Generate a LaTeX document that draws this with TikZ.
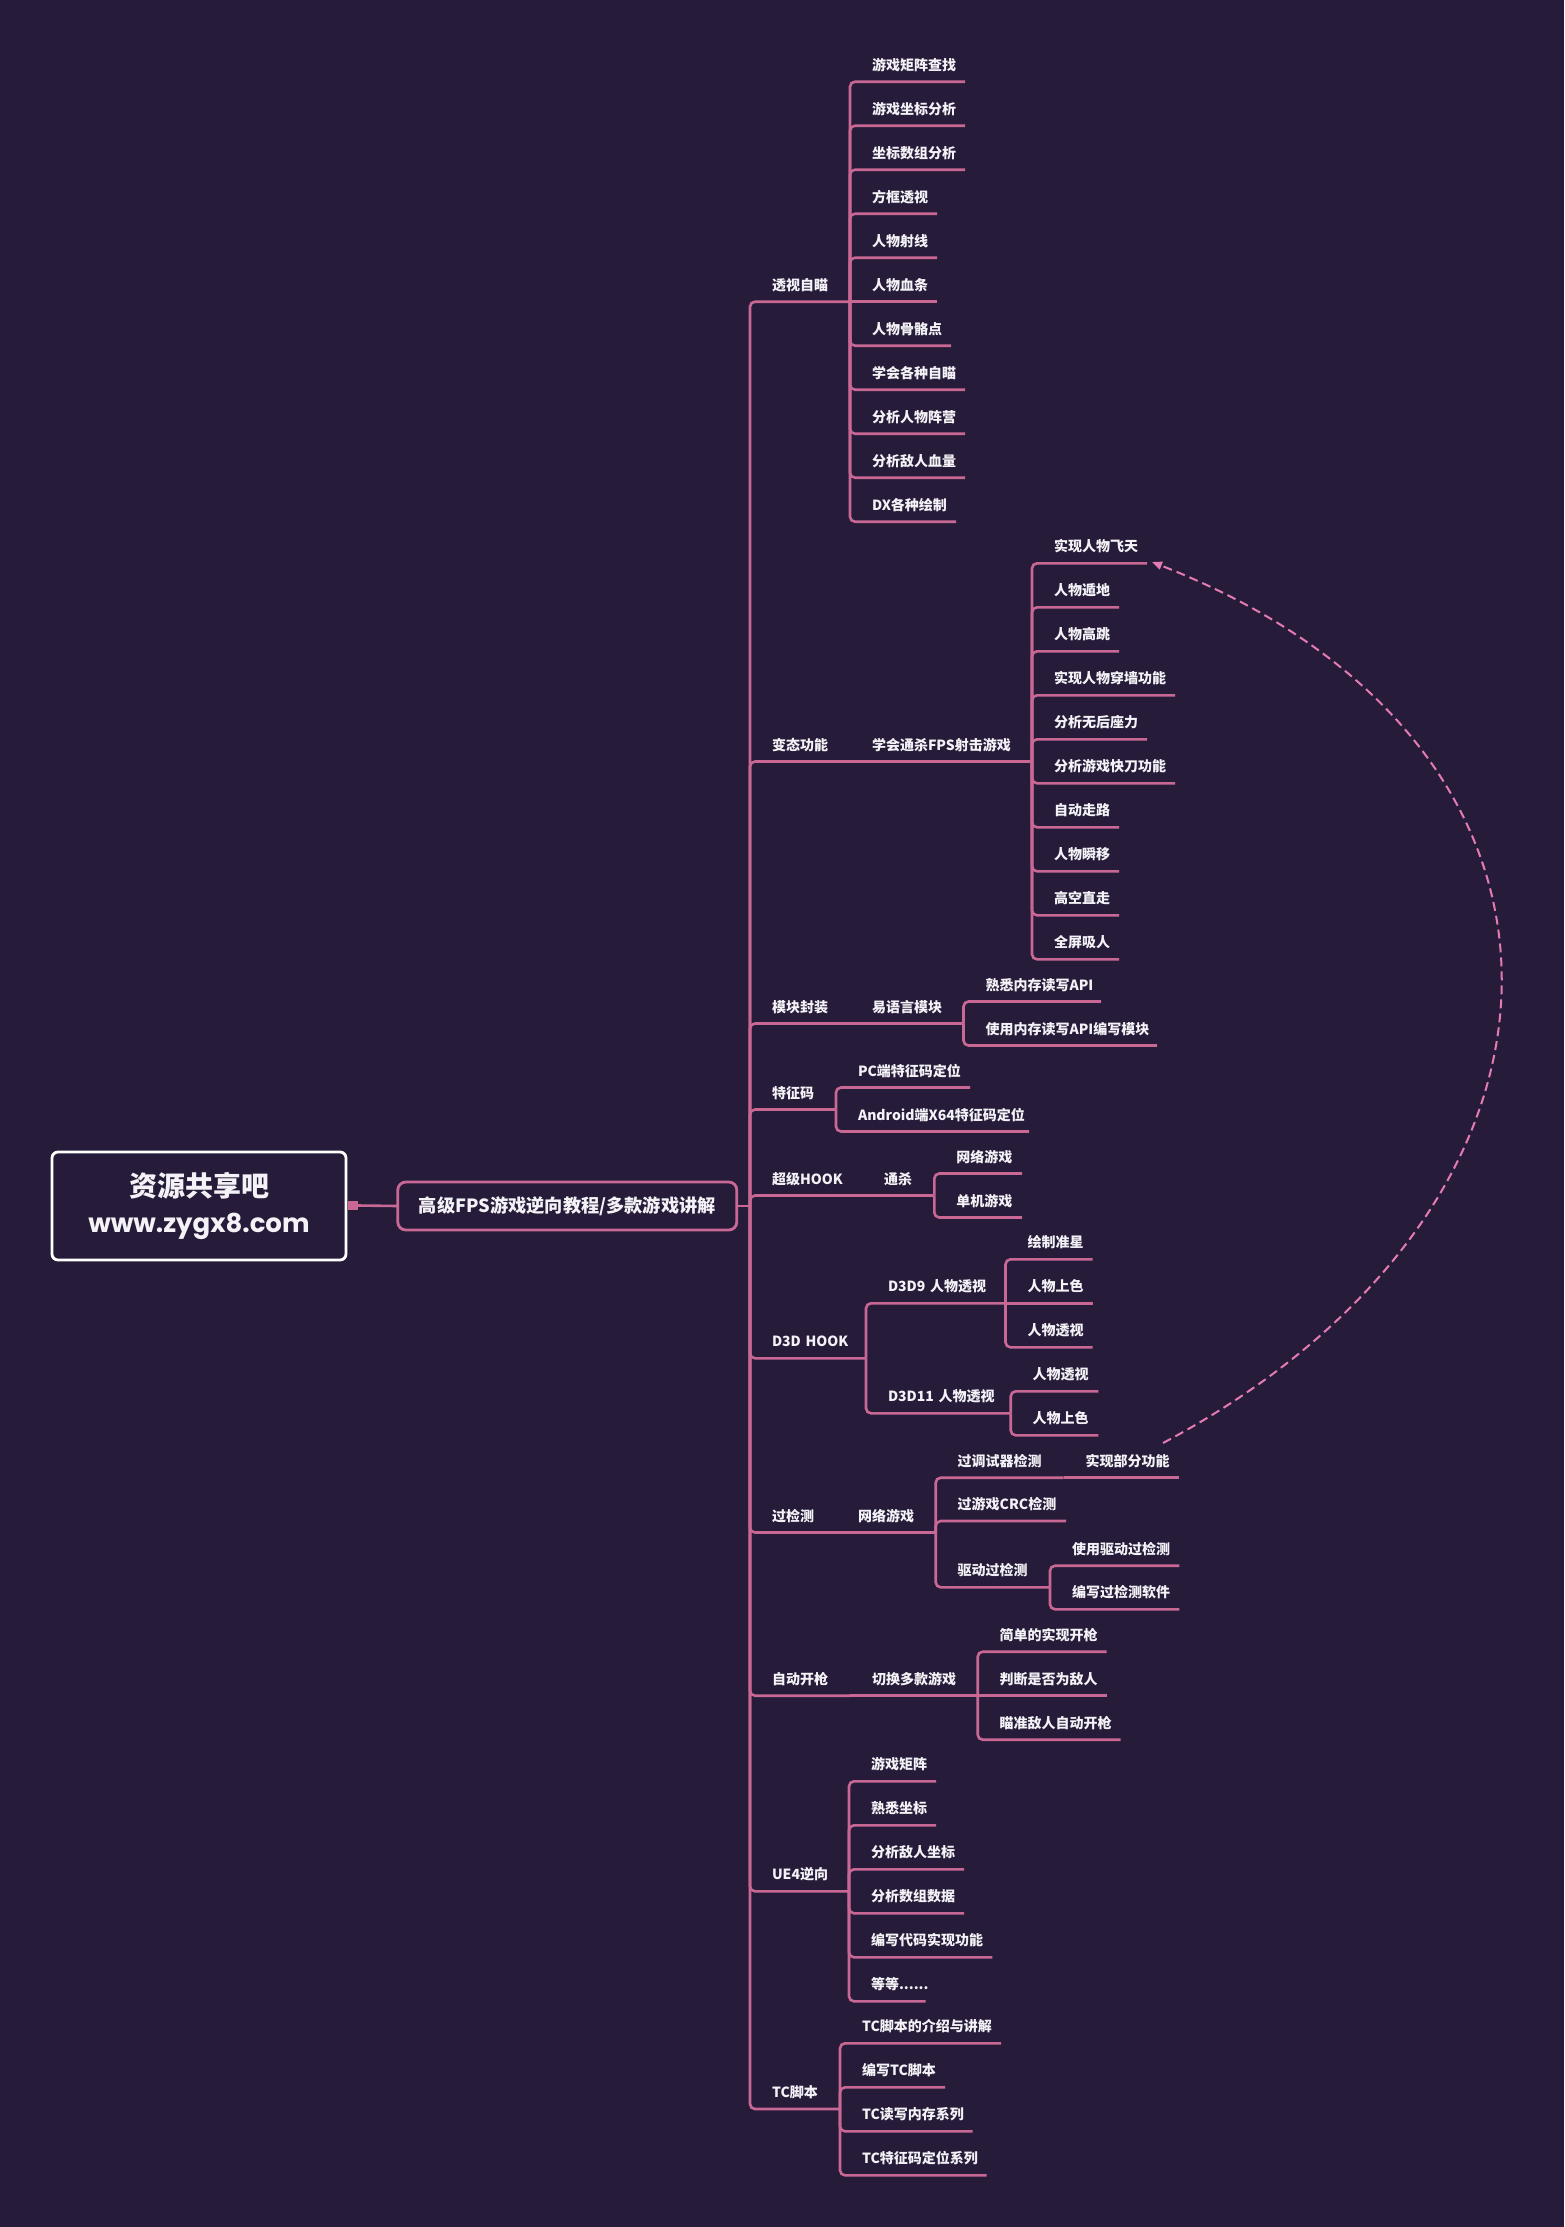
\documentclass[tikz,border=0pt]{standalone}
\usepackage{fontspec}
\newfontfamily\cjk{Noto Sans CJK SC}
\newfontfamily\pop{Poppins}
\usetikzlibrary{arrows.meta}
\definecolor{bg}{HTML}{261C3A}
\definecolor{pk}{HTML}{C96895}
\definecolor{pkl}{HTML}{E57BB6}
\definecolor{txt}{HTML}{F4F2F6}
\tikzset{
  lbl/.style={anchor=south west, inner sep=0pt, outer sep=0pt, text height=12pt, text depth=11.5pt,
    align=left, text=txt, font=\cjk\bfseries\fontsize{14}{17}\selectfont},
  br/.style={draw=pk, line width=2.6pt, rounded corners=5pt},
  rootbox/.style={draw=white, line width=2.8pt, rounded corners=6pt, fill=bg, text=txt, align=center,
    minimum width=294pt, minimum height=108pt, inner sep=0pt, outer sep=0pt},
  mainbox/.style={draw=pk, line width=2.8pt, rounded corners=8pt, fill=bg, text=txt,
    minimum width=339pt, minimum height=48pt, inner sep=0pt, outer sep=0pt,
    font=\cjk\bfseries\fontsize{18.2}{20}\selectfont},
  dsh/.style={draw=pkl, line width=2pt, dash pattern=on 9pt off 5pt, -{Triangle[length=10pt,width=8pt]}},
}
\newcommand\mmnode[5]{\node[lbl, text width=#4pt] (#1) at (#2,#3) {\noindent\hspace*{22pt}#5};}
\begin{document}
\begin{tikzpicture}[x=1pt, y=-1pt]
\fill[bg] (0,0) rectangle (1564,2227);
\useasboundingbox (0,0) rectangle (1564,2227);

% root and main
\node[rootbox] (root) at (199,1206) {{\cjk\bfseries\fontsize{28}{38}\selectfont 资源共享吧}\\[12pt]{\pop\bfseries\fontsize{26}{34}\selectfont www.zygx8.com}};
\node[fill=pk, minimum width=10pt, minimum height=9pt, inner sep=0pt, outer sep=0pt] (sq) at (353,1205.5) {};
\node[mainbox] (main) at (567.3,1206) {高级FPS游戏逆向教程/多款游戏讲解};
\draw[br] (sq.east) -- (main.west);
\coordinate (j) at (750,1206);
\draw[br] (main.east) -- (j);

% level 1
\mmnode{b1}{750}{301.7}{100}{透视自瞄}
\mmnode{b2}{750}{761.5}{100}{变态功能}
\mmnode{b3}{750}{1023.5}{100}{模块封装}
\mmnode{b4}{750}{1109.5}{86}{特征码}
\mmnode{b5}{750}{1195.5}{112}{超级HOOK}
\mmnode{b6}{750}{1358.3}{116}{D3D HOOK}
\mmnode{b7}{750}{1532.5}{86}{过检测}
\mmnode{b8}{750}{1695.7}{100}{自动开枪}
\mmnode{b9}{750}{1891.3}{99}{UE4逆向}
\mmnode{b10}{750}{2109}{90}{TC脚本}
\foreach \b in {b1,b2,b3,b4,b5,b6,b7,b8,b9,b10} {\draw[br] (j) |- (\b.south east);}

% 透视自瞄
\mmnode{a0}{850}{81.7}{115}{游戏矩阵查找}
\mmnode{a1}{850}{125.7}{115}{游戏坐标分析}
\mmnode{a2}{850}{169.7}{115}{坐标数组分析}
\mmnode{a3}{850}{213.7}{87}{方框透视}
\mmnode{a4}{850}{257.7}{87}{人物射线}
\mmnode{a5}{850}{301.7}{87}{人物血条}
\mmnode{a6}{850}{345.7}{101}{人物骨骼点}
\mmnode{a7}{850}{389.7}{115}{学会各种自瞄}
\mmnode{a8}{850}{433.7}{115}{分析人物阵营}
\mmnode{a9}{850}{477.7}{115}{分析敌人血量}
\mmnode{a10}{850}{521.7}{106}{DX各种绘制}
\foreach \c in {a0,a1,a2,a3,a4,a6,a7,a8,a9,a10} {\draw[br] (b1.south east) |- (\c.south east);}
\draw[br] (b1.south east) -- (a5.south east);

% 变态功能
\mmnode{s1}{850}{761.5}{182}{学会通杀FPS射击游戏}
\draw[br] (b2.south east) -- (s1.south east);
\mmnode{f0}{1032}{563.3}{115}{实现人物飞天}
\mmnode{f1}{1032}{607.3}{87}{人物遁地}
\mmnode{f2}{1032}{651.3}{87}{人物高跳}
\mmnode{f3}{1032}{695.3}{143}{实现人物穿墙功能}
\mmnode{f4}{1032}{739.3}{115}{分析无后座力}
\mmnode{f5}{1032}{783.3}{143}{分析游戏快刀功能}
\mmnode{f6}{1032}{827.3}{87}{自动走路}
\mmnode{f7}{1032}{871.3}{87}{人物瞬移}
\mmnode{f8}{1032}{915.3}{87}{高空直走}
\mmnode{f9}{1032}{959.3}{87}{全屏吸人}
\foreach \c in {f0,f1,f2,f3,f4,f5,f6,f7,f8,f9} {\draw[br] (s1.south east) |- (\c.south east);}

% 模块封装
\mmnode{m1}{850}{1023.5}{113.5}{易语言模块}
\draw[br] (b3.south east) -- (m1.south east);
\mmnode{m2}{963.5}{1001.5}{137.5}{熟悉内存读写API}
\mmnode{m3}{963.5}{1045.5}{193.5}{使用内存读写API编写模块}
\foreach \c in {m2,m3} {\draw[br] (m1.south east) |- (\c.south east);}

% 特征码
\mmnode{t1}{836}{1087.5}{134}{PC端特征码定位}
\mmnode{t2}{836}{1131.5}{193}{Android端X64特征码定位}
\foreach \c in {t1,t2} {\draw[br] (b4.south east) |- (\c.south east);}

% 超级HOOK
\mmnode{h1}{862}{1195.5}{72.3}{通杀}
\draw[br] (b5.south east) -- (h1.south east);
\mmnode{h2}{934.3}{1173.5}{87.7}{网络游戏}
\mmnode{h3}{934.3}{1217.5}{87.7}{单机游戏}
\foreach \c in {h2,h3} {\draw[br] (h1.south east) |- (\c.south east);}

% D3D HOOK
\mmnode{d9}{866}{1303.3}{139.5}{D3D9 人物透视}
\mmnode{d11}{866}{1413.3}{144.7}{D3D11 人物透视}
\foreach \c in {d9,d11} {\draw[br] (b6.south east) |- (\c.south east);}
\mmnode{d9a}{1005.5}{1259.3}{87.2}{绘制准星}
\mmnode{d9b}{1005.5}{1303.3}{87.2}{人物上色}
\mmnode{d9c}{1005.5}{1347.3}{87.2}{人物透视}
\draw[br] (d9.south east) |- (d9a.south east);
\draw[br] (d9.south east) -- (d9b.south east);
\draw[br] (d9.south east) |- (d9c.south east);
\mmnode{d11a}{1010.7}{1391.3}{87.6}{人物透视}
\mmnode{d11b}{1010.7}{1435.3}{87.6}{人物上色}
\foreach \c in {d11a,d11b} {\draw[br] (d11.south east) |- (\c.south east);}

% 过检测
\mmnode{g1}{836}{1532.5}{99.7}{网络游戏}
\draw[br] (b7.south east) -- (g1.south east);
\mmnode{g2}{935.7}{1477.7}{128}{过调试器检测}
\mmnode{g3}{935.7}{1521}{130.3}{过游戏CRC检测}
\mmnode{g4}{935.7}{1587.3}{114.3}{驱动过检测}
\foreach \c in {g2,g3,g4} {\draw[br] (g1.south east) |- (\c.south east);}
\mmnode{g5}{1063.7}{1477.7}{115.6}{实现部分功能}
\draw[br] (g2.south east) -- (g5.south east);
\mmnode{g6}{1050}{1565.7}{129.3}{使用驱动过检测}
\mmnode{g7}{1050}{1609.3}{129.3}{编写过检测软件}
\foreach \c in {g6,g7} {\draw[br] (g4.south east) |- (\c.south east);}

% 自动开枪
\mmnode{k1}{850}{1695.7}{127.7}{切换多款游戏}
\draw[br] (b8.south east) -- (k1.south east);
\mmnode{k2}{977.7}{1651.7}{129}{简单的实现开枪}
\mmnode{k3}{977.7}{1695.7}{129}{判断是否为敌人}
\mmnode{k4}{977.7}{1739.7}{143}{瞄准敌人自动开枪}
\draw[br] (k1.south east) |- (k2.south east);
\draw[br] (k1.south east) -- (k3.south east);
\draw[br] (k1.south east) |- (k4.south east);

% UE4逆向
\mmnode{u1}{849}{1781.3}{87}{游戏矩阵}
\mmnode{u2}{849}{1825.3}{87}{熟悉坐标}
\mmnode{u3}{849}{1869.3}{115}{分析敌人坐标}
\mmnode{u4}{849}{1913.3}{115}{分析数组数据}
\mmnode{u5}{849}{1957.3}{143.3}{编写代码实现功能}
\mmnode{u6}{849}{2001.3}{76.7}{等等......}
\foreach \c in {u1,u2,u3,u4,u5,u6} {\draw[br] (b9.south east) |- (\c.south east);}

% TC脚本
\mmnode{tc1}{840}{2043.3}{161}{TC脚本的介绍与讲解}
\mmnode{tc2}{840}{2087.3}{105}{编写TC脚本}
\mmnode{tc3}{840}{2131.3}{132.7}{TC读写内存系列}
\mmnode{tc4}{840}{2175.3}{146.7}{TC特征码定位系列}
\foreach \c in {tc1,tc2,tc3,tc4} {\draw[br] (b10.south east) |- (\c.south east);}

% dashed relation
\coordinate (ds) at (1163,1443);
\coordinate (de) at (1152,562);
\draw[dsh] (ds) .. controls (1610,1205) and (1620,745) .. (de);
\end{tikzpicture}
\end{document}
